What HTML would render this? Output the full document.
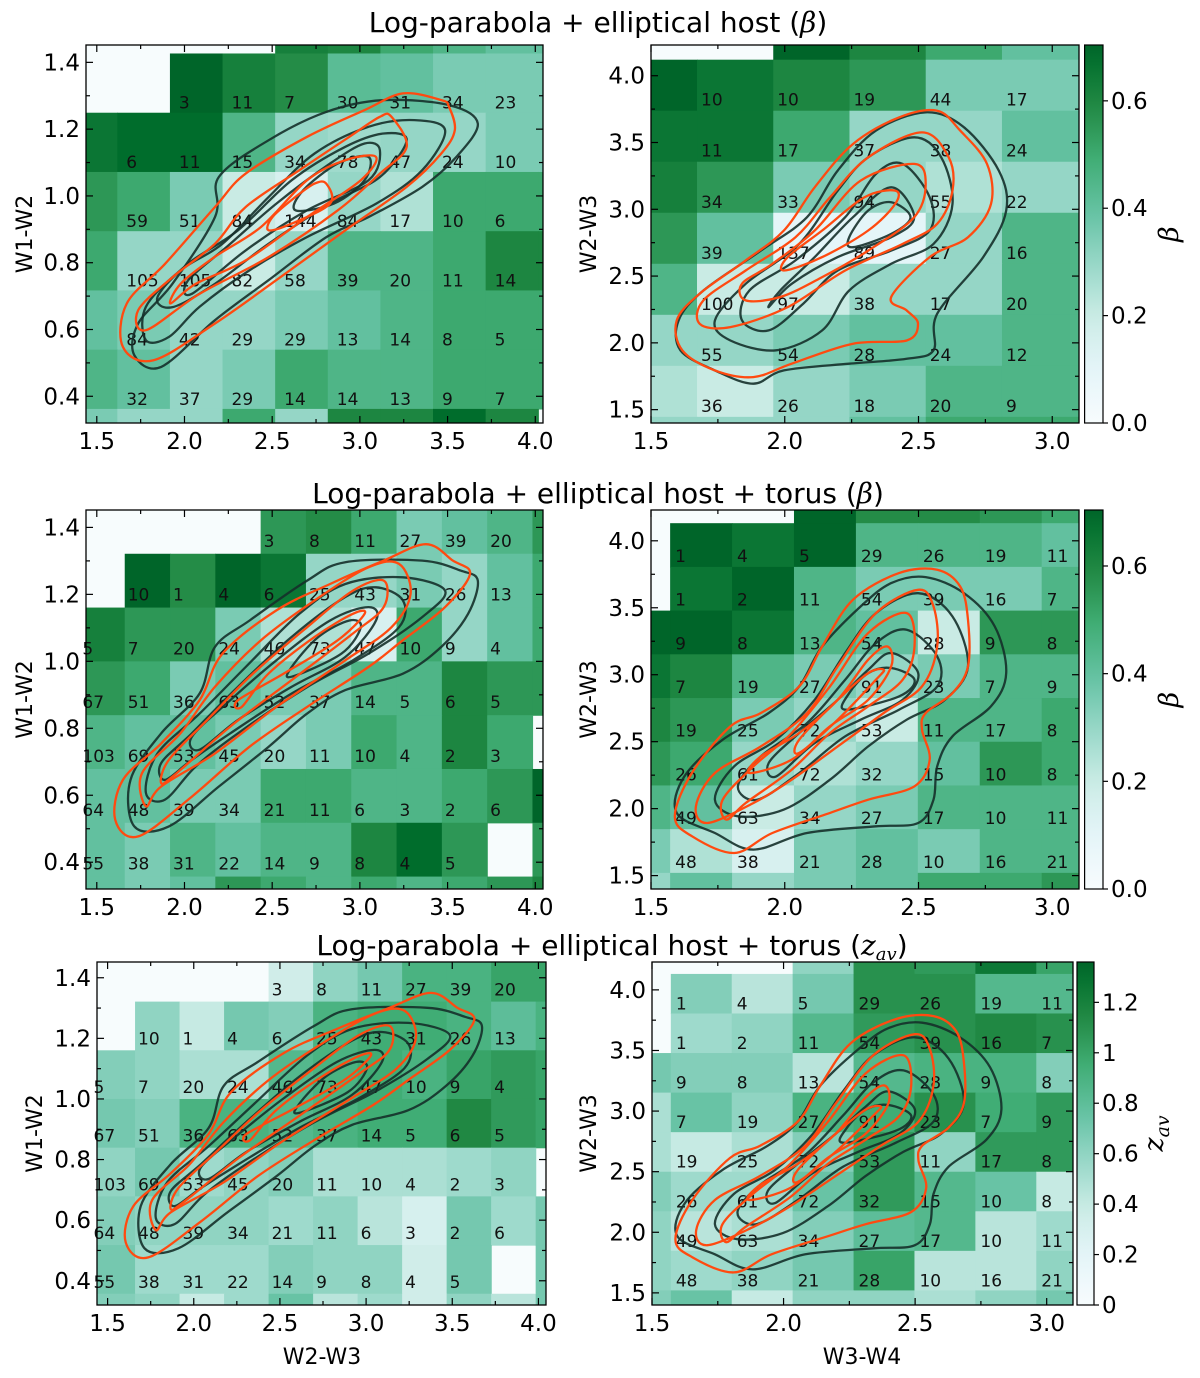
<!DOCTYPE html>
<html><head><meta charset="utf-8">
<style>
html,body{margin:0;padding:0;background:#fff;}
svg{display:block;font-family:"DejaVu Sans","Liberation Sans",sans-serif;}
</style></head>
<body>
<svg id="fig" width="1200" height="1378" viewBox="0 0 1200 1378" xmlns="http://www.w3.org/2000/svg">
<text x="598" y="32" font-size="28" text-anchor="middle">Log-parabola + elliptical host (<tspan font-family="DejaVu Serif,serif" font-style="italic">β</tspan>)</text>
<text x="598" y="503" font-size="28" text-anchor="middle">Log-parabola + elliptical host + torus (<tspan font-family="DejaVu Serif,serif" font-style="italic">β</tspan>)</text>
<text x="612" y="955" font-size="28" text-anchor="middle">Log-parabola + elliptical host + torus (<tspan font-family="DejaVu Serif,serif" font-style="italic">z<tspan font-size="18" dy="5">av</tspan></tspan><tspan dy="-5">)</tspan></text>
<text x="322" y="1364" font-size="22" text-anchor="middle">W2-W3</text>
<text x="862" y="1364" font-size="22" text-anchor="middle">W3-W4</text>
</svg>
<script>
// ===== data: colour values per heat-map cell (rows top->bottom) =====
const r1L_colors=[
[null,null,null,null,0.62,0.6,0.5,0.45,0.4,0.4],
[null,null,0.7,0.62,0.58,0.42,0.4,0.35,0.35,0.35],
[0.65,0.68,0.68,0.45,0.3,0.28,0.3,0.3,0.35,0.35],
[0.55,0.5,0.35,0.2,0.15,0.3,0.25,0.5,0.5,0.5],
[0.5,0.3,0.3,0.2,0.3,0.45,0.45,0.5,0.6,0.6],
[0.4,0.35,0.3,0.3,0.35,0.4,0.45,0.5,0.5,0.5],
[0.45,0.4,0.3,0.35,0.5,0.45,0.45,0.5,0.5,0.5],
[0.35,0.3,0.3,0.5,0.3,0.6,0.6,0.68,0.6,null]];
const r1L_counts=[[],
[null,null,3,11,7,30,31,34,23],
[null,6,11,15,34,78,47,24,10],
[null,59,51,84,144,84,17,10,6],
[null,105,105,82,58,39,20,11,14],
[null,84,42,29,29,13,14,8,5],
[null,32,37,29,14,14,13,9,7],[]];
const r1R_colors=[
[null,null,0.7,0.6,0.5,0.4,0.4],
[0.7,0.65,0.6,0.55,0.35,0.35,0.35],
[0.65,0.65,0.5,0.3,0.3,0.4,0.4],
[0.62,0.55,0.35,0.3,0.25,0.3,0.3],
[0.55,0.4,0.1,0.1,0.3,0.45,0.45],
[0.45,0.2,0.2,0.3,0.3,0.45,0.45],
[0.3,0.3,0.35,0.4,0.4,0.45,0.45],
[0.25,0.2,0.3,0.35,0.45,0.45,0.45],
[0.3,0.3,0.3,0.4,0.5,0.5,0.5]];
const r1R_counts=[[],
[null,10,10,19,44,17],
[null,11,17,37,38,24],
[null,34,33,94,55,22],
[null,39,137,89,27,16],
[null,100,97,38,17,20],
[null,55,54,28,24,12],
[null,36,26,18,20,9],[]];
const r2L_colors=[
[null,null,null,null,0.55,0.58,0.5,0.35,0.4,0.45,0.55],
[null,0.7,0.58,0.7,0.65,0.3,0.3,0.35,0.3,0.4,0.5],
[0.62,0.55,0.55,0.35,0.25,0.25,0.15,0.5,0.3,0.4,0.5],
[0.55,0.5,0.35,0.4,0.35,0.35,0.45,0.45,0.6,0.55,0.55],
[0.45,0.4,0.4,0.35,0.3,0.35,0.5,0.45,0.6,0.5,null],
[0.4,0.4,0.35,0.35,0.5,0.5,0.45,0.45,0.5,0.55,0.7],
[0.4,0.35,0.45,0.4,0.45,0.45,0.6,0.68,0.55,null,0.55],
[0.4,0.35,0.4,0.55,0.5,0.45,0.5,0.45,0.5,0.55,0.6]];
const r23L_counts=[
[null,null,null,null,3,8,11,27,39,20],
[null,10,1,4,6,25,43,31,26,13],
[5,7,20,24,46,73,47,10,9,4],
[67,51,36,63,52,37,14,5,6,5],
[103,69,53,45,20,11,10,4,2,3],
[64,48,39,34,21,11,6,3,2,6],
[55,38,31,22,14,9,8,4,5],[]];
const r2R_colors=[
[null,null,null,0.7,0.58,0.58,0.55,0.5],
[null,0.7,0.65,0.7,0.45,0.45,0.45,0.4],
[null,0.65,0.7,0.45,0.35,0.35,0.35,0.45],
[0.7,0.7,0.65,0.45,0.4,0.2,0.55,0.55],
[0.65,0.6,0.45,0.35,0.3,0.35,0.45,0.45],
[0.6,0.55,0.35,0.3,0.2,0.45,0.45,0.5],
[0.55,0.5,0.3,0.25,0.3,0.4,0.55,0.5],
[0.45,0.4,0.2,0.3,0.35,0.45,0.45,0.45],
[0.35,0.25,0.15,0.35,0.4,0.35,0.45,0.45],
[0.3,0.4,0.3,0.35,0.4,0.5,0.5,0.55]];
const r23R_counts=[[],
[null,1,4,5,29,26,19,11],
[null,1,2,11,54,39,16,7],
[null,9,8,13,54,28,9,8],
[null,7,19,27,91,23,7,9],
[null,19,25,72,53,11,17,8],
[null,26,61,72,32,15,10,8],
[null,49,63,34,27,17,10,11],
[null,48,38,21,28,10,16,21],[]];
const r3L_colors=[
[null,null,null,null,0.35,0.6,0.7,0.9,0.9,1.0,1.0],
[null,0.6,0.4,0.7,0.65,0.9,0.95,0.95,0.9,0.8,0.9],
[0.65,0.6,0.5,0.5,0.85,0.9,0.95,0.9,1.0,1.05,1.0],
[0.7,0.65,0.9,0.9,0.85,0.9,0.95,0.95,1.15,1.05,1.0],
[0.6,0.7,0.55,0.6,0.65,0.5,0.5,0.5,0.55,0.6,null],
[0.65,0.6,0.6,0.6,0.55,0.6,0.45,0.3,0.7,0.55,0.7],
[0.7,0.55,0.55,0.55,0.65,0.6,0.6,0.35,0.7,null,0.7],
[0.65,0.6,0.4,0.55,0.75,0.45,0.55,0.35,0.6,0.45,0.7]];
const r3R_colors=[
[null,null,null,0.6,1.1,1.05,1.25,1.0],
[null,0.65,0.45,0.7,1.1,1.1,0.85,0.85],
[null,0.55,0.6,0.85,1.05,1.1,1.15,1.1],
[0.7,0.65,0.65,0.45,0.85,0.9,0.9,0.65],
[0.5,0.75,0.6,0.9,0.95,1.1,0.95,1.05],
[0.5,0.4,0.5,0.65,1.05,0.6,1.05,1.05],
[0.65,0.55,0.55,0.75,1.05,0.85,0.75,0.4],
[0.6,0.45,0.5,0.65,0.8,0.85,0.45,0.55],
[0.6,0.55,0.6,0.7,1.0,0.45,0.45,0.6],
[0.65,0.75,0.4,0.6,0.6,0.5,0.6,0.7]];
// ===== contour data (data coordinates, x,y pairs) =====
const c1L_black=[
[3.672,1.217,3.55,1.117,3.355,1.027,3.05,0.937,2.81,0.877,2.48,0.748,2.174,0.628,1.867,0.488,1.714,0.523,1.736,0.618,1.933,0.738,2.174,0.937,2.196,1.057,2.48,1.167,2.81,1.252,3.136,1.287,3.508,1.272],
[3.486,1.197,3.355,1.077,3.093,0.977,2.699,0.877,2.37,0.777,2.086,0.668,1.912,0.578,1.78,0.568,1.78,0.668,1.977,0.777,2.217,0.857,2.48,0.997,2.742,1.127,3.049,1.207,3.311,1.227],
[3.267,1.167,3.115,1.057,2.83,0.977,2.48,0.857,2.174,0.737,1.933,0.667,1.846,0.697,2.02,0.797,2.305,0.897,2.611,1.047,2.917,1.147,3.136,1.187],
[3.114,1.137,3.049,1.047,2.699,0.957,2.349,0.837,2.042,0.707,2.02,0.747,2.24,0.847,2.524,0.977,2.83,1.097,3.027,1.157],
[3.027,1.047,2.852,0.977,2.633,0.957,2.677,1.017,2.874,1.097,3.049,1.117]];
const c1L_orange=[
[3.508,1.267,3.541,1.197,3.464,1.127,3.267,1.027,2.917,0.897,2.524,0.748,2.174,0.618,1.824,0.508,1.649,0.548,1.671,0.678,1.89,0.797,2.174,0.967,2.349,1.067,2.699,1.177,3.027,1.257,3.245,1.307,3.464,1.287],
[3.18,1.237,3.267,1.147,3.114,1.067,2.874,0.957,2.48,0.817,2.086,0.707,1.78,0.598,1.736,0.658,1.933,0.757,2.174,0.857,2.349,0.967,2.655,1.077,2.94,1.177,3.114,1.237],
[3.092,1.117,3.005,1.047,2.699,0.937,2.349,0.807,2.065,0.737,1.92,0.678,1.98,0.738,2.174,0.818,2.436,0.907,2.699,1.047,2.917,1.107],
[2.808,1.037,2.83,0.977,2.611,0.917,2.48,0.897,2.502,0.937,2.633,0.997,2.742,1.037]];
const c1R_black=[
[2.527,3.726,2.67,3.614,2.8,3.29,2.828,2.99,2.742,2.642,2.57,2.218,2.556,1.944,2.456,1.881,2.241,1.844,1.997,1.794,1.882,1.694,1.739,1.794,1.61,1.944,1.603,2.168,1.696,2.392,1.911,2.691,2.083,2.941,2.198,3.29,2.341,3.589],
[2.484,3.539,2.585,3.389,2.627,3.04,2.556,2.741,2.398,2.592,2.241,2.392,2.14,2.093,1.968,1.944,1.797,2.018,1.739,2.168,1.854,2.442,2.054,2.741,2.198,3.14,2.312,3.389],
[2.441,3.34,2.542,3.09,2.542,2.841,2.398,2.691,2.198,2.542,2.069,2.293,1.94,2.093,1.84,2.168,1.868,2.392,2.04,2.617,2.226,2.941,2.341,3.265],
[2.398,3.165,2.484,2.941,2.398,2.791,2.198,2.642,2.026,2.442,1.94,2.268,1.983,2.392,2.112,2.642,2.255,2.941],
[2.398,3.053,2.47,2.941,2.398,2.816,2.255,2.716,2.241,2.791,2.312,2.991]];
const c1R_orange=[
[2.57,3.738,2.656,3.589,2.756,3.34,2.771,3.04,2.685,2.791,2.542,2.642,2.398,2.343,2.456,2.243,2.498,2.143,2.456,2.018,2.255,1.994,2.026,1.844,1.882,1.744,1.739,1.794,1.617,1.944,1.596,2.168,1.682,2.368,1.854,2.617,1.997,2.841,2.112,3.165,2.255,3.489,2.427,3.688],
[2.513,3.576,2.613,3.389,2.627,3.14,2.57,2.891,2.441,2.741,2.226,2.542,2.011,2.268,1.797,2.118,1.682,2.143,1.696,2.318,1.854,2.542,2.04,2.791,2.169,3.09,2.312,3.389],
[2.484,3.34,2.527,3.19,2.484,2.941,2.312,2.691,2.14,2.492,1.983,2.343,1.854,2.318,1.84,2.442,1.954,2.592,2.112,2.841,2.284,3.215],
[2.413,3.14,2.413,3.04,2.312,2.841,2.14,2.642,1.997,2.542,2.011,2.642,2.14,2.841,2.298,3.09]];
const c23L_black=[
[3.672,1.241,3.617,1.142,3.464,1.043,3.245,0.963,2.917,0.914,2.699,0.844,2.48,0.745,2.196,0.626,1.911,0.507,1.714,0.507,1.692,0.646,1.867,0.785,2.086,0.904,2.174,1.043,2.371,1.122,2.699,1.241,2.917,1.296,3.355,1.301,3.574,1.271],
[3.486,1.211,3.355,1.132,3.049,1.023,2.699,0.923,2.305,0.785,2.064,0.686,1.889,0.587,1.78,0.607,1.846,0.725,2.086,0.844,2.349,0.983,2.655,1.142,2.917,1.231,3.245,1.251],
[3.245,1.182,3.223,1.102,2.96,1.003,2.611,0.904,2.261,0.785,2.042,0.706,1.889,0.646,1.867,0.696,2.042,0.785,2.305,0.924,2.611,1.073,2.917,1.192,3.092,1.221],
[3.092,1.122,2.917,1.013,2.611,0.924,2.305,0.825,2.086,0.736,2.042,0.775,2.261,0.884,2.524,1.003,2.83,1.122,3.049,1.162],
[3.005,1.102,2.895,1.023,2.611,0.954,2.611,0.983,2.764,1.073,2.94,1.122]];
const c23L_orange=[
[3.377,1.35,3.53,1.301,3.628,1.261,3.486,1.162,3.245,1.063,3.049,0.983,2.699,0.864,2.371,0.745,2.042,0.596,1.736,0.477,1.605,0.527,1.649,0.646,1.867,0.755,2.086,0.884,2.217,1.023,2.524,1.152,2.83,1.231,3.136,1.301],
[3.223,1.291,3.289,1.202,3.18,1.102,2.917,1.003,2.524,0.864,2.174,0.725,1.867,0.626,1.78,0.567,1.758,0.666,1.977,0.785,2.174,0.924,2.436,1.063,2.742,1.182,3.049,1.281],
[3.136,1.241,3.136,1.162,2.96,1.083,2.611,0.944,2.261,0.805,1.955,0.666,1.867,0.636,1.911,0.706,2.13,0.825,2.392,0.964,2.699,1.102,2.96,1.211],
[3.027,1.142,2.874,1.063,2.568,0.964,2.305,0.884,2.327,0.864,2.48,0.964,2.742,1.073,2.96,1.142]];
const c23R_black=[
[2.527,3.729,2.67,3.609,2.785,3.361,2.828,3.012,2.771,2.764,2.627,2.54,2.57,2.316,2.556,2.067,2.499,1.893,2.341,1.868,2.083,1.818,1.883,1.694,1.739,1.818,1.596,1.968,1.625,2.241,1.768,2.515,1.94,2.714,2.054,2.913,2.14,3.211,2.284,3.51,2.398,3.684],
[2.499,3.609,2.627,3.435,2.685,3.062,2.599,2.813,2.456,2.664,2.312,2.465,2.169,2.216,1.997,1.993,1.825,1.943,1.739,2.067,1.811,2.316,1.968,2.515,2.112,2.813,2.226,3.162,2.341,3.46],
[2.456,3.336,2.57,3.137,2.57,2.913,2.427,2.739,2.226,2.54,2.054,2.266,1.897,2.067,1.825,2.167,1.911,2.391,2.083,2.639,2.226,2.963,2.341,3.236],
[2.398,3.162,2.499,3.012,2.441,2.813,2.284,2.664,2.112,2.49,1.968,2.241,1.94,2.341,2.054,2.565,2.198,2.813,2.312,3.037],
[2.398,3.05,2.485,2.963,2.427,2.838,2.226,2.739,2.241,2.863,2.312,3.012]];
const c23R_orange=[
[2.57,3.784,2.656,3.659,2.685,3.41,2.685,3.062,2.627,2.863,2.527,2.714,2.513,2.59,2.542,2.366,2.485,2.167,2.312,2.067,2.169,1.968,1.954,1.818,1.811,1.669,1.653,1.794,1.589,1.943,1.653,2.266,1.797,2.614,1.911,2.714,2.054,2.913,2.14,3.211,2.255,3.56,2.427,3.759],
[2.499,3.634,2.556,3.51,2.57,3.211,2.513,2.913,2.37,2.714,2.198,2.465,2.026,2.216,1.883,2.042,1.711,1.893,1.668,2.017,1.739,2.266,1.911,2.465,2.083,2.714,2.198,3.062,2.341,3.46],
[2.456,3.46,2.485,3.211,2.441,2.963,2.312,2.764,2.169,2.565,2.026,2.291,1.854,2.042,1.782,1.918,1.768,2.067,1.883,2.316,2.026,2.565,2.169,2.913,2.312,3.311],
[2.384,3.211,2.398,3.062,2.312,2.813,2.169,2.615,2.026,2.366,1.868,2.266,1.911,2.391,2.054,2.565,2.198,2.813,2.312,3.112],
[2.37,3.037,2.341,2.963,2.198,2.664,2.054,2.416,2.054,2.515,2.198,2.813,2.312,3.012]];
// ===== layout =====
const NS='http://www.w3.org/2000/svg';
const svg=document.getElementById('fig');
const BUGN=['#f7fcfd','#e5f5f9','#ccece6','#99d8c9','#66c2a4','#41ae76','#238b45','#006d2c','#00441b'];
function hex(h){return [1,3,5].map(i=>parseInt(h.substr(i,2),16));}
function cmap(t){t=Math.max(0,Math.min(1,t))*8;let i=Math.min(7,Math.floor(t));let f=t-i;let a=hex(BUGN[i]),b=hex(BUGN[i+1]);
 return 'rgb('+a.map((v,k)=>Math.round(v+(b[k]-v)*f)).join(',')+')';}
function el(tag,attrs,parent){const e=document.createElementNS(NS,tag);for(const k in attrs)e.setAttribute(k,attrs[k]);(parent||svg).appendChild(e);return e;}
let clipId=0;
function smooth(pts){let n=pts.length;let d='';
 for(let i=0;i<n;i++){const p0=pts[(i-1+n)%n],p1=pts[i],p2=pts[(i+1)%n],p3=pts[(i+2)%n];
  if(i===0)d+='M'+p1[0].toFixed(1)+','+p1[1].toFixed(1);
  const c1=[p1[0]+(p2[0]-p0[0])/6,p1[1]+(p2[1]-p0[1])/6],c2=[p2[0]-(p3[0]-p1[0])/6,p2[1]-(p3[1]-p1[1])/6];
  d+='C'+c1.map(v=>v.toFixed(1)).join(',')+' '+c2.map(v=>v.toFixed(1)).join(',')+' '+p2[0].toFixed(1)+','+p2[1].toFixed(1);}
 return d+'Z';}
function panel(o){
 const sx=v=>o.L+(v-o.xd[0])/(o.xd[1]-o.xd[0])*(o.R-o.L);
 const sy=v=>o.B-(v-o.yd[0])/(o.yd[1]-o.yd[0])*(o.B-o.T);
 const g=el('g',{});
 
 
 const cid='clip'+(clipId++);
 const cp=el('clipPath',{id:cid},g);el('rect',{x:o.L,y:o.T,width:o.R-o.L,height:o.B-o.T},cp);
 const bg=el('rect',{x:o.L,y:o.T,width:o.R-o.L,height:o.B-o.T,fill:'#f7fcfd'},g);
 
 
 const cells=el('g',{'clip-path':'url(#'+cid+')'},g);
 
 
 o.colors.forEach((row,r)=>row.forEach((v,c)=>{if(v===null)return;
  const x1=sx(o.x0+c*o.dx),x2=sx(o.x0+(c+1)*o.dx),y1=sy(o.yTop-r*o.dy),y2=sy(o.yTop-(r+1)*o.dy);
  const rc=el('rect',{x:x1,y:y1,width:x2-x1+0.6,height:y2-y1+0.6,fill:cmap(v/o.vmax*0.9)},cells);
  
  }));
 const labs=el('g',{'font-size':o.fs||17,fill:'#111'},g);
 o.counts.forEach((row,r)=>row.forEach((v,c)=>{if(v===null||v===undefined)return;
  const t=el('text',{x:sx(o.x0+c*o.dx)+o.lx,y:sy(o.yTop-(r+1)*o.dy)-o.ly+6},labs);t.textContent=v;
  
  }));
 const cg=el('g',{'clip-path':'url(#'+cid+')',fill:'none','stroke-width':2.3,'stroke-linejoin':'round'},g);
 o.black.forEach(a=>{const pts=[];for(let i=0;i<a.length;i+=2)pts.push([sx(a[i]),sy(a[i+1])]);
  const p=el('path',{d:smooth(pts),stroke:'#15302a','stroke-opacity':0.9},cg);
  
  });
 o.orange.forEach(a=>{const pts=[];for(let i=0;i<a.length;i+=2)pts.push([sx(a[i]),sy(a[i+1])]);
  const p=el('path',{d:smooth(pts),stroke:'#ff4a10'},cg);
  
  });
 const tg=el('g',{stroke:'#000','stroke-width':1.2},g);
 for(let v=Math.ceil(o.xd[0]/o.xmin-1e-9)*o.xmin;v<=o.xd[1]+1e-9;v+=o.xmin){const x=sx(v);
  const maj=Math.abs(v/o.xmaj-Math.round(v/o.xmaj))<1e-6;const len=maj?7:4;
  el('line',{x1:x,x2:x,y1:o.B,y2:o.B-len},tg);el('line',{x1:x,x2:x,y1:o.T,y2:o.T+len},tg);
  if(maj){const t=el('text',{x:x,y:o.B+26,'font-size':23,'text-anchor':'middle',stroke:'none'},g);t.textContent=(Math.round(v*10)/10).toFixed(1);
   
   }}
 for(let v=Math.ceil(o.yd[0]/o.ymin-1e-9)*o.ymin;v<=o.yd[1]+1e-9;v+=o.ymin){const y=sy(v);
  const maj=Math.abs(v/o.ymaj-Math.round(v/o.ymaj))<1e-6;const len=maj?7:4;
  el('line',{x1:o.L,x2:o.L+len,y1:y,y2:y},tg);el('line',{x1:o.R,x2:o.R-len,y1:y,y2:y},tg);
  if(maj){const t=el('text',{x:o.L-6,y:y+8,'font-size':23,'text-anchor':'end',stroke:'none'},g);t.textContent=(Math.round(v*10)/10).toFixed(1);
   
   }}
 const fr=el('rect',{x:o.L,y:o.T,width:o.R-o.L,height:o.B-o.T,fill:'none',stroke:'#000','stroke-width':1.3},g);
 
 
 const yl=el('text',{x:o.ylx,y:(o.T+o.B)/2,'font-size':22,'text-anchor':'middle',transform:'rotate(-90 '+o.ylx+' '+(o.T+o.B)/2+')'},g);
 yl.textContent=o.ylab;
 
 
}
function colorbar(o){
 const g=el('g',{});
 
 
 const gid='grad'+(clipId++);
 const lg=el('linearGradient',{id:gid,x1:0,y1:1,x2:0,y2:0},g);
 for(let i=0;i<=20;i++)el('stop',{offset:i/20,'stop-color':cmap(i/20*0.9)},lg);
 el('rect',{x:o.L,y:o.T,width:o.R-o.L,height:o.B-o.T,fill:'url(#'+gid+')',stroke:'#000','stroke-width':1.2},g);
 o.ticks.forEach((v,i)=>{const y=o.B-v/o.vmax*(o.B-o.T);
  el('line',{x1:o.R,x2:o.R+5,y1:y,y2:y,stroke:'#000','stroke-width':1.2},g);
  const t=el('text',{x:o.R+8,y:y+8,'font-size':23},g);t.textContent=o.tickLabels[i];
  
  });
 const cx=o.lx,cy=(o.T+o.B)/2;
 const t=el('text',{x:cx,y:cy,'font-size':27,'font-family':'DejaVu Serif,serif','font-style':'italic','text-anchor':'middle',transform:'rotate(-90 '+cx+' '+cy+')'},g);
 if(o.z){t.textContent='z';const s=el('tspan',{'font-size':19,dy:6},t);s.textContent='av';}else t.textContent='β';
 
 
}
const LX=[1.4385,4.044],LY=[0.32,1.452],RX=[1.5,3.10],RY=[1.40,4.23];
const betaTicks=[0,0.2,0.4,0.6],betaLabels=['0.0','0.2','0.4','0.6'];
const zTicks=[0,0.2,0.4,0.6,0.8,1.0,1.2],zLabels=['0','0.2','0.4','0.6','0.8','1','1.2'];
const leftCommon={xd:LX,yd:LY,xmaj:0.5,xmin:0.25,ymaj:0.2,ymin:0.1,ylab:'W1-W2',ylx:32};
const rightCommon={xd:RX,yd:RY,xmaj:0.5,xmin:0.25,ymaj:0.5,ymin:0.25,ylab:'W2-W3',ylx:596};
panel(Object.assign({},leftCommon,{name:'panel-row1-left',L:86,R:543,T:45,B:423,x0:1.317,dx:0.3,yTop:1.604,dy:0.1774,vmax:0.7,colors:r1L_colors,counts:r1L_counts,lx:9,ly:10,black:c1L_black,orange:c1L_orange}));
panel(Object.assign({},rightCommon,{name:'panel-row1-right',L:651,R:1079,T:45,B:423,x0:1.387,dx:0.285,yTop:4.502,dy:0.382,vmax:0.7,colors:r1R_colors,counts:r1R_counts,lx:4,ly:11,black:c1R_black,orange:c1R_orange}));
colorbar({L:1084.6,R:1103,T:45,B:423,vmax:0.704,ticks:betaTicks,tickLabels:betaLabels,lx:1178});
panel(Object.assign({},leftCommon,{name:'panel-row2-left',L:86,R:543,T:510,B:889,x0:1.401,dx:0.2583,yTop:1.482,dy:0.1607,vmax:0.7,colors:r2L_colors,counts:r23L_counts,lx:3,ly:13,black:c23L_black,orange:c23L_orange}));
panel(Object.assign({},rightCommon,{name:'panel-row2-right',L:651,R:1079,T:510,B:889,x0:1.340,dx:0.2315,yTop:4.458,dy:0.3264,vmax:0.7,colors:r2R_colors,counts:r23R_counts,lx:5,ly:11,black:c23R_black,orange:c23R_orange}));
colorbar({L:1084.6,R:1103,T:510,B:889,vmax:0.704,ticks:betaTicks,tickLabels:betaLabels,lx:1178});
panel(Object.assign({},leftCommon,{name:'panel-row3-left',L:97,R:546,T:962,B:1305,x0:1.401,dx:0.2583,yTop:1.482,dy:0.1607,vmax:1.36,colors:r3L_colors,counts:r23L_counts,lx:3,ly:12,black:c23L_black,orange:c23L_orange,ylx:42}));
panel(Object.assign({},rightCommon,{name:'panel-row3-right',L:652,R:1073,T:962,B:1305,x0:1.340,dx:0.2315,yTop:4.458,dy:0.3264,vmax:1.36,colors:r3R_colors,counts:r23R_counts,lx:5,ly:10,black:c23R_black,orange:c23R_orange}));
colorbar({L:1077,R:1094,T:962,B:1305,vmax:1.36,ticks:zTicks,tickLabels:zLabels,lx:1163,z:true});
</script>
</body></html>
